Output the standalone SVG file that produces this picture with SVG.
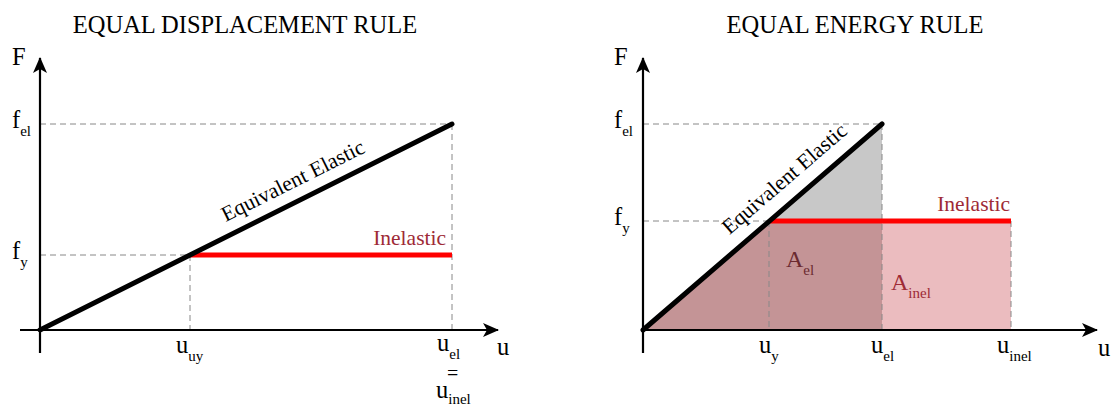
<svg xmlns="http://www.w3.org/2000/svg" width="1112" height="407" viewBox="0 0 1112 407">
<style>
text{font-family:"Liberation Serif","Times New Roman",serif;fill:#000}
.t{font-size:24.5px}
.lbl{font-size:24.5px}
.sub{font-size:15px}
.note{font-size:21.5px}
.axis{stroke:#000;stroke-width:2.2;fill:none}
.dash{stroke:#888;stroke-width:1;stroke-dasharray:6,4;fill:none}
.el{stroke:#000;stroke-width:5;stroke-linecap:round;fill:none}
.inel{stroke:#ff0000;stroke-width:5;fill:none}
.red{fill:#9e2a36}
</style>
<defs>
<marker id="ah" viewBox="0 0 16 14" refX="15" refY="7" markerWidth="16" markerHeight="14" markerUnits="userSpaceOnUse" orient="auto">
<path d="M0,0 L16,7 L0,14 L4,7 z" fill="#000"/>
</marker>
</defs>
<g id="title-left"><text class="t" x="245" y="33" text-anchor="middle">EQUAL DISPLACEMENT RULE</text></g>
<g id="title-right"><text class="t" x="855" y="33" text-anchor="middle">EQUAL ENERGY RULE</text></g>

<g id="fills-right">
<polygon points="769,221 882,124 882,221" fill="#c8c8c8"/>
<polygon points="643,330 769,221 882,221 882,330" fill="#c49496"/>
<rect x="882" y="221" width="129" height="109" fill="#ebbcbf"/>
</g>

<g id="connectors">
<line class="dash" x1="40" y1="124" x2="452" y2="124"/>
<line class="dash" x1="40" y1="255" x2="190" y2="255"/>
<line class="dash" x1="190" y1="255" x2="190" y2="330"/>
<line class="dash" x1="452" y1="124" x2="452" y2="330"/>
<line class="dash" x1="643" y1="124" x2="882" y2="124"/>
<line class="dash" x1="643" y1="221" x2="769" y2="221"/>
<line class="dash" x1="769" y1="221" x2="769" y2="330"/>
<line class="dash" x1="882" y1="124" x2="882" y2="330"/>
<line class="dash" x1="1011" y1="221" x2="1011" y2="330"/>
<line class="axis" x1="40" y1="353" x2="40" y2="58" marker-end="url(#ah)"/>
<line class="axis" x1="20" y1="330" x2="498" y2="330" marker-end="url(#ah)"/>
<line class="axis" x1="643" y1="353" x2="643" y2="58" marker-end="url(#ah)"/>
<line class="axis" x1="643" y1="330" x2="1097" y2="330" marker-end="url(#ah)"/>
<line class="inel" x1="190" y1="255" x2="452" y2="255"/>
<line class="el" x1="40" y1="330" x2="452" y2="124"/>
<line class="inel" x1="769" y1="221" x2="1011" y2="221"/>
<line class="el" x1="643" y1="330" x2="882" y2="124"/>
</g>

<g id="labels-left">
<text class="lbl" x="12" y="65">F</text>
<text class="lbl" x="12" y="128">f<tspan class="sub" dy="8">el</tspan></text>
<text class="lbl" x="12" y="259">f<tspan class="sub" dy="8">y</tspan></text>
<text class="lbl" x="176" y="353">u<tspan class="sub" dy="8">uy</tspan></text>
<text class="lbl" x="437" y="351">u<tspan class="sub" dy="8">el</tspan></text>
<text x="447" y="380" font-size="20">=</text>
<text class="lbl" x="436" y="398">u<tspan class="sub" dy="6">inel</tspan></text>
<text class="lbl" x="497" y="355">u</text>
<text class="note" x="296" y="187" text-anchor="middle" transform="rotate(-26.57 296 187)">Equivalent Elastic</text>
<text class="note red" x="446" y="245" text-anchor="end">Inelastic</text>
</g>

<g id="labels-right">
<text class="lbl" x="614" y="65">F</text>
<text class="lbl" x="614" y="128">f<tspan class="sub" dy="8">el</tspan></text>
<text class="lbl" x="614" y="225">f<tspan class="sub" dy="8">y</tspan></text>
<text class="lbl" x="759" y="353">u<tspan class="sub" dy="8">y</tspan></text>
<text class="lbl" x="871" y="353">u<tspan class="sub" dy="8">el</tspan></text>
<text class="lbl" x="997" y="353">u<tspan class="sub" dy="8">inel</tspan></text>
<text class="lbl" x="1098" y="356">u</text>
<text class="note" x="789" y="184" text-anchor="middle" transform="rotate(-40.76 789 184)">Equivalent Elastic</text>
<text class="note red" x="1010" y="211" text-anchor="end">Inelastic</text>
<text class="lbl" x="786" y="267" style="fill:#6b2a30;font-size:24px">A<tspan class="sub" dy="8">el</tspan></text>
<text class="lbl red" x="891" y="290" style="font-size:24px">A<tspan class="sub" dy="8">inel</tspan></text>
</g>
</svg>
